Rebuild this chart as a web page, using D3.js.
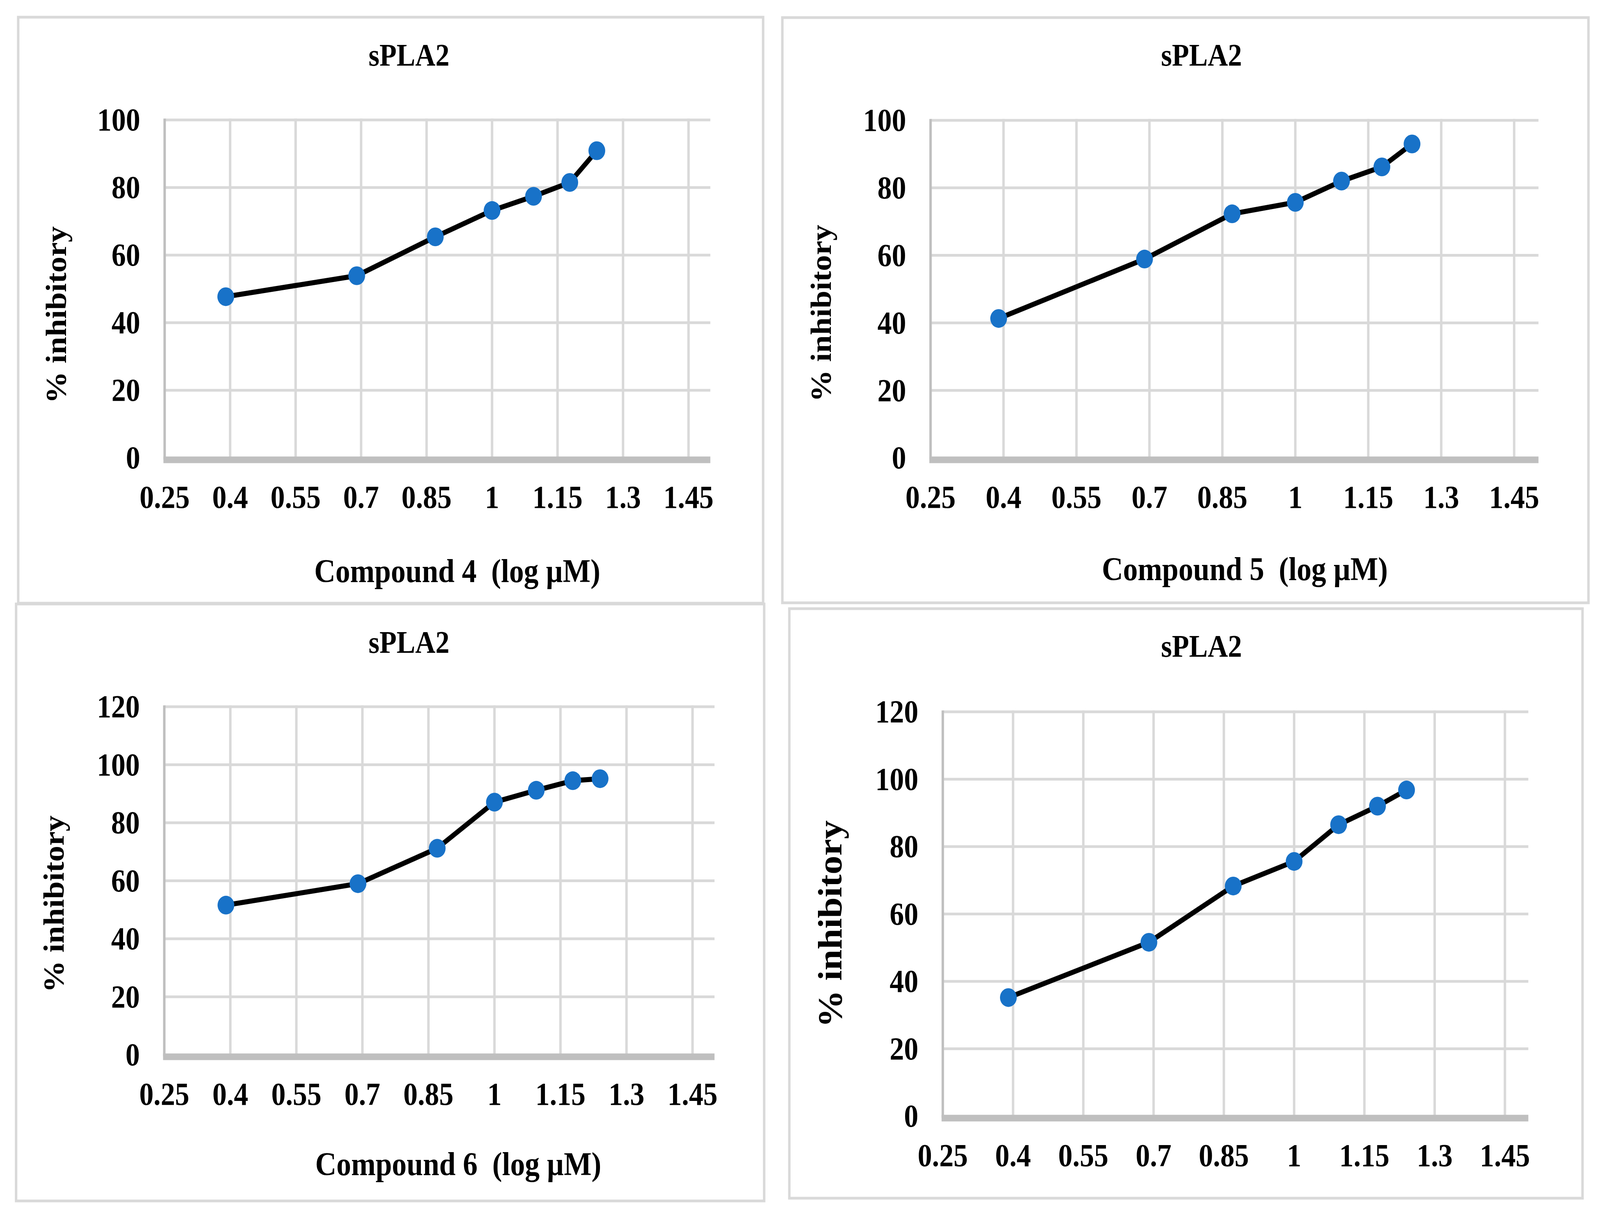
<!DOCTYPE html>
<html>
<head>
<meta charset="utf-8">
<script src="https://cdn.jsdelivr.net/npm/d3@7"></script>
<style>
  html, body { margin: 0; padding: 0; background: #fff; overflow: hidden; }
  svg { display: block; width: 100vw; height: 100vh; }
  text { font-family: "Liberation Serif", "Times New Roman", serif; font-weight: bold; fill: #000; }
</style>
</head>
<body>
<div id="chart"></div>
<script>
const W = 4577, H = 3110;

// data
const logConc = [0.39, 0.69, 0.87, 1.0, 1.095, 1.178, 1.24];
const compound4 = [47.7, 53.9, 65.4, 73.2, 77.4, 81.5, 90.9];
const compound5 = [41.3, 58.9, 72.3, 75.7, 82.0, 86.2, 93.0];
const compound6 = [51.6, 59.0, 71.2, 87.1, 91.2, 94.5, 95.2];
const compound7 = [35.2, 51.6, 68.3, 75.6, 86.5, 92.0, 96.8];
const xTicks = [0.25, 0.4, 0.55, 0.7, 0.85, 1, 1.15, 1.3, 1.45];
const yTicks100 = [0, 20, 40, 60, 80, 100];
const yTicks120 = [0, 20, 40, 60, 80, 100, 120];
const chartTitle = "sPLA2";
const yTitle = "% inhibitory";

// layout of the four panels
const panels = [
  {values: compound4, yTicks: yTicks100, yMax: 100, xTitle: "Compound 4  (log µM)",
   box: [52, 44, 2183, 1544], plot: [471, 2032, 1172, 307], titleY: 168, titleX: 1170,
   xTitleX: 1308, xTitleY: 1490, yTitleX: 162, yTitleY: 806, yTitleSize: 82},
  {values: compound5, yTicks: yTicks100, yMax: 100, xTitle: "Compound 5  (log µM)",
   box: [2238, 45, 4544, 1543], plot: [2662, 4401, 1172, 308], titleY: 168, titleX: 3437,
   xTitleX: 3561, xTitleY: 1485, yTitleX: 2349, yTitleY: 802, yTitleSize: 82},
  {values: compound6, yTicks: yTicks120, yMax: 120, xTitle: "Compound 6  (log µM)",
   box: [46, 1546, 2186, 3074], plot: [470, 2044, 2700, 1809], titleY: 1671, titleX: 1170,
   xTitleX: 1311, xTitleY: 3008, yTitleX: 155, yTitleY: 2314, yTitleSize: 82},
  {values: compound7, yTicks: yTicks120, yMax: 120, xTitle: null,
   box: [2258, 1558, 4527, 3067], plot: [2697, 4372, 2857, 1822], titleY: 1681, titleX: 3437,
   xTitleX: 0, xTitleY: 0, yTitleX: 2375, yTitleY: 2365, yTitleSize: 96}
];

// stretch the drawing over the whole window
const svg = d3.select("#chart")
    .append("svg")
    .attr("viewBox", `0 0 ${W} ${H}`)
    .attr("preserveAspectRatio", "none");

panels.forEach((p) => {
    const g = svg.append("g");

    g.append("rect")
        .attr("x", p.box[0]).attr("y", p.box[1])
        .attr("width", p.box[2] - p.box[0]).attr("height", p.box[3] - p.box[1])
        .attr("fill", "none")
        .attr("stroke", "#d9d9d9")
        .attr("stroke-width", 7);

    const x = d3.scaleLinear().domain([0.25, 1.5]).range([p.plot[0], p.plot[1]]);
    const y = d3.scaleLinear().domain([0, p.yMax]).range([p.plot[2], p.plot[3]]);

    // horizontal gridlines
    g.selectAll(".hgrid")
        .data(p.yTicks.filter((d) => d > 0))
        .enter().append("line")
        .attr("x1", x(0.25)).attr("x2", x(1.5))
        .attr("y1", (d) => y(d)).attr("y2", (d) => y(d))
        .attr("stroke", "#d9d9d9")
        .attr("stroke-width", 7);

    // vertical gridlines
    g.selectAll(".vgrid")
        .data(xTicks)
        .enter().append("line")
        .attr("x1", (d) => x(d)).attr("x2", (d) => x(d))
        .attr("y1", y(p.yMax) - 3.5).attr("y2", y(0) + 4)
        .attr("stroke", (d, i) => i === 0 ? "#bfbfbf" : "#d9d9d9")
        .attr("stroke-width", 7);

    // bottom axis line
    g.append("line")
        .attr("x1", x(0.25) - 3.5).attr("x2", x(1.5))
        .attr("y1", y(0) + 5).attr("y2", y(0) + 5)
        .attr("stroke", "#bfbfbf")
        .attr("stroke-width", 17);

    // tick labels
    g.selectAll(".xlab")
        .data(xTicks)
        .enter().append("text")
        .attr("x", (d) => x(d))
        .attr("y", y(0) + 128)
        .attr("text-anchor", "middle")
        .style("font-size", "82px")
        .text((d) => d);

    g.selectAll(".ylab")
        .data(p.yTicks)
        .enter().append("text")
        .attr("x", x(0.25) - 70)
        .attr("y", (d) => y(d))
        .attr("text-anchor", "end")
        .attr("dominant-baseline", "central")
        .style("font-size", "82px")
        .text((d) => d);

    // titles
    g.append("text")
        .attr("x", p.titleX).attr("y", p.titleY)
        .attr("text-anchor", "middle")
        .style("font-size", "80px")
        .text(chartTitle);

    if (p.xTitle) {
        g.append("text")
            .attr("x", p.xTitleX).attr("y", p.xTitleY)
            .attr("text-anchor", "middle")
            .style("font-size", "84px")
            .style("white-space", "pre")
            .text(p.xTitle);
    }

    g.append("text")
        .attr("transform", `translate(${p.yTitleX},${p.yTitleY}) rotate(-90)`)
        .attr("text-anchor", "middle")
        .attr("dominant-baseline", "central")
        .style("font-size", p.yTitleSize + "px")
        .text(yTitle);

    // series
    const pts = logConc.map((c, i) => ({x: c, y: p.values[i]}));
    const line = d3.line().x((d) => x(d.x)).y((d) => y(d.y));

    g.append("path")
        .datum(pts)
        .attr("d", line)
        .attr("fill", "none")
        .attr("stroke", "#000")
        .attr("stroke-width", 13)
        .attr("stroke-linejoin", "round");

    g.selectAll(".dot")
        .data(pts)
        .enter().append("circle")
        .attr("cx", (d) => x(d.x))
        .attr("cy", (d) => y(d.y))
        .attr("r", 24)
        .attr("fill", "#1872c8");
});
</script>
</body>
</html>
